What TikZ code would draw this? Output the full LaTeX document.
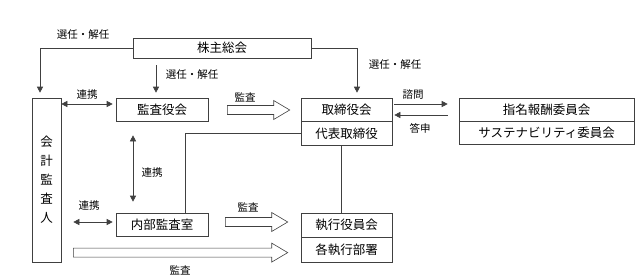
\documentclass[tikz,border=0pt]{standalone}
\usepackage{fontspec}
\setmainfont{Noto Sans CJK JP}
\usetikzlibrary{arrows.meta,positioning,calc}

\tikzset{
  box/.style={draw=black!75, line width=0.6pt, inner sep=0pt, minimum height=23pt,
    font=\fontsize{12.5}{14}\selectfont},
  lbl/.style={font=\fontsize{10.5}{12}\selectfont, inner sep=0pt},
  line/.style={draw=black!75, line width=0.6pt},
  tip/.style={line, -{Triangle[length=6pt,width=6pt]}},
  both/.style={line, {Triangle[length=6pt,width=6pt]}-{Triangle[length=6pt,width=6pt]}},
}

% hollow block arrow from #1 to #2 (same height)
\newcommand{\bigarrow}[2]{%
  \draw[line, fill=white] let \p1=(#1), \p2=(#2) in
    (\x1,\y1+4.5pt) -- (\x2-16pt,\y1+4.5pt) -- (\x2-16pt,\y1+9.5pt) -- (\x2,\y1)
    -- (\x2-16pt,\y1-9.5pt) -- (\x2-16pt,\y1-4.5pt) -- (\x1,\y1-4.5pt) -- cycle;}

\begin{document}
\begin{tikzpicture}[x=1pt,y=-1pt]
	\useasboundingbox (0,0) rectangle (636,278);

	% boxes
	\node[box, minimum width=178pt, minimum height=20pt] (soukai) at (222,48) {株主総会};
	\node[box, minimum width=29pt, minimum height=164pt, align=center,
	  font=\fontsize{12.5}{19}\selectfont] (kaikei) at (46.5,180) {会\\計\\監\\査\\人};
	\node[box, minimum width=92pt] (kansayaku) at (162,109.5) {監査役会};
	\node[box, minimum width=92pt] (naibu) at (162,224.5) {内部監査室};
	\node[box, minimum width=91pt] (torishimari) at (346.5,109.5) {取締役会};
	\node[box, minimum width=91pt, minimum height=24pt, below=0pt of torishimari] (daihyo) {代表取締役};
	\node[box, minimum width=91pt, minimum height=24pt] (shikkou) at (346.5,225) {執行役員会};
	\node[box, minimum width=91pt, minimum height=25pt, below=0pt of shikkou] (kaku) {各執行部署};
	\node[box, minimum width=175pt] (shimei) at (546.5,109.5) {指名報酬委員会};
	\node[box, minimum width=175pt, below=0pt of shimei] (sustain) {サステナビリティ委員会};

	% appointment
	\draw[tip] (soukai.west) -| ([xshift=-6.5pt,yshift=5pt]kaikei.north);
	\draw[tip] (soukai.east) -| ([xshift=10.5pt,yshift=5pt]torishimari.north);
	\draw[tip] ([xshift=-66pt,yshift=-7pt]soukai.south) -- ([xshift=-6pt,yshift=5pt]kansayaku.north);
	\node[lbl] (sen1) at (83,35) {選任・解任};
	\node[lbl] (sen2) at (192,75) {選任・解任};
	\node[lbl] (sen3) at (395,65) {選任・解任};

	% cooperation
	\draw[both] ($(kansayaku.west)+(-3,-5.5)$) coordinate (r1) -- (kaikei.east |- r1);
	\draw[both] ($(naibu.west)+(-3,-2.5)$) coordinate (r2) -- ($(kaikei.east |- r2)+(12,0)$);
	\draw[both] ([xshift=-29pt,yshift=-14pt]kansayaku.south) -- ([xshift=-29pt,yshift=11pt]naibu.north);
	\node[lbl] (ren1) at (87,95) {連携};
	\node[lbl] (ren2) at (152,173) {連携};
	\node[lbl] (ren3) at (89,206) {連携};

	% reporting lines
	\draw[line] (daihyo.west) -| ([xshift=23pt]naibu.north);
	\draw[line] ([xshift=-5.5pt]daihyo.south) -- ([xshift=-5.5pt]shikkou.north);

	% consultation
	\draw[tip] ($(torishimari.east)+(2,-5.5)$) -- ($(shimei.west)+(-11,-5.5)$);
	\draw[tip] ($(shimei.west)+(-11,5.5)$) -- ($(torishimari.east)+(2,5.5)$);
	\node[lbl] (shimon) at (413,95) {諮問};
	\node[lbl] (toushin) at (420,128) {答申};

	% audit
	\bigarrow{$(kansayaku.east)+(19,0.5)$}{$(torishimari.west)+(-11,0.5)$}
	\bigarrow{$(naibu.east)+(17,-2.5)$}{$(shikkou.west)+(-13,-2.5)$}
	\bigarrow{$(kaikei.east |- kaku.west)+(12,2.5)$}{$(kaku.west)+(-13,2.5)$}
	\node[lbl] (kansa1) at (245,97) {監査};
	\node[lbl] (kansa2) at (248,207) {監査};
	\node[lbl] (kansa3) at (180,270) {監査};
\end{tikzpicture}
\end{document}
